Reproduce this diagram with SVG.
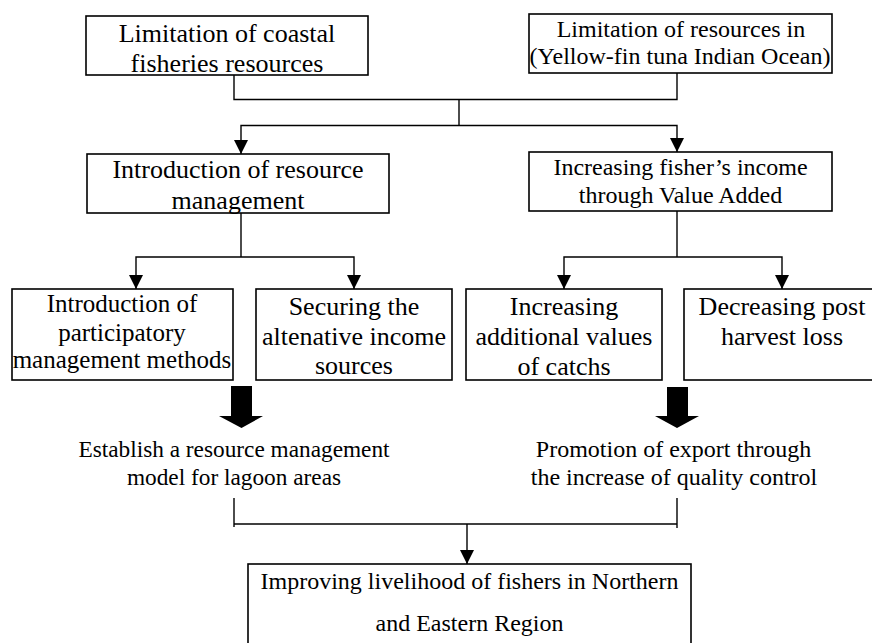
<svg xmlns="http://www.w3.org/2000/svg" width="872" height="643" viewBox="0 0 872 643">
  <style>
    .box { fill: #fff; stroke: #000; stroke-width: 1.6; }
    .t { font-family: "Liberation Serif", "Times New Roman", serif; fill: #000; text-anchor: middle; }
    .f26 { font-size: 26px; }
    .f25 { font-size: 25px; }
    .f24 { font-size: 24px; }
    .f23 { font-size: 23.3px; }
    .ln { fill: none; stroke: #000; stroke-width: 1.4; }
    .big { fill: #000; stroke: none; }
  </style>
  <defs>
    <marker id="arrow" viewBox="0 0 14 14" refX="14" refY="7" markerWidth="14" markerHeight="14" markerUnits="userSpaceOnUse" orient="auto">
      <path d="M0,0 L14,7 L0,14 z" fill="#000"/>
    </marker>
  </defs>

  <rect width="872" height="643" fill="#fff"/>

  <!-- connectors -->
  <g id="connectors">
    <!-- two sources merge, then split -->
    <path class="ln" d="M234,75 V99.5 H677 V73"/>
    <path class="ln" d="M459,99.5 V125.5"/>
    <path class="ln" d="M459,125.5 H241 V154" marker-end="url(#arrow)"/>
    <path class="ln" d="M459,125.5 H677 V152" marker-end="url(#arrow)"/>
    <!-- resource management branch -->
    <path class="ln" d="M241,213 V257"/>
    <path class="ln" d="M241,257 H136 V289" marker-end="url(#arrow)"/>
    <path class="ln" d="M241,257 H354 V289" marker-end="url(#arrow)"/>
    <!-- value added branch -->
    <path class="ln" d="M677,211 V257"/>
    <path class="ln" d="M677,257 H564 V289" marker-end="url(#arrow)"/>
    <path class="ln" d="M677,257 H782 V289" marker-end="url(#arrow)"/>
    <!-- bold block arrows -->
    <path class="big" d="M231,386 H252 V416 H263 L241.5,428 L219,416 H231 z"/>
    <path class="big" d="M667,387 H688 V416 H699 L677,428 L655,416 H667 z"/>
    <!-- outcomes merge into goal -->
    <path class="ln" d="M234,498 V527"/>
    <path class="ln" d="M677,498 V528"/>
    <path class="ln" d="M234,524 H677"/>
    <path class="ln" d="M467,524 V564" marker-end="url(#arrow)"/>
  </g>

  <g id="coastal-limits">
    <rect class="box" x="86" y="16" width="282" height="59"/>
    <text class="t f26" x="227" y="42">Limitation of coastal</text>
    <text class="t f26" x="227" y="72">fisheries resources</text>
  </g>

  <g id="tuna-limits">
    <rect class="box" x="529" y="14" width="303" height="59"/>
    <text class="t f24" x="681" y="37">Limitation of resources in</text>
    <text class="t f24" x="680" y="64">(Yellow-fin tuna Indian Ocean)</text>
  </g>

  <g id="resource-management">
    <rect class="box" x="87" y="154" width="302" height="59"/>
    <text class="t f26" x="238" y="178">Introduction of resource</text>
    <text class="t f26" x="238" y="209">management</text>
  </g>

  <g id="value-added">
    <rect class="box" x="529" y="152" width="303" height="59"/>
    <text class="t f24" x="680.5" y="175">Increasing fisher’s income</text>
    <text class="t f24" x="680.5" y="203">through Value Added</text>
  </g>

  <g id="participatory">
    <rect class="box" x="12" y="289" width="221" height="91"/>
    <text class="t f25" x="122" y="312">Introduction of</text>
    <text class="t f25" x="122" y="341">participatory</text>
    <text class="t f25" x="122" y="368">management methods</text>
  </g>

  <g id="alternative-income">
    <rect class="box" x="256" y="289" width="196" height="91"/>
    <text class="t f26" x="354" y="315">Securing the</text>
    <text class="t f26" x="354" y="345">altenative income</text>
    <text class="t f26" x="354" y="374">sources</text>
  </g>

  <g id="additional-values">
    <rect class="box" x="466" y="289" width="196" height="91"/>
    <text class="t f26" x="564" y="315">Increasing</text>
    <text class="t f26" x="564" y="345">additional values</text>
    <text class="t f26" x="564" y="375">of catchs</text>
  </g>

  <g id="post-harvest">
    <rect class="box" x="684" y="289" width="200" height="91"/>
    <text class="t f26" x="782" y="315">Decreasing post</text>
    <text class="t f26" x="782" y="345">harvest loss</text>
  </g>

  <g id="lagoon-model">
    <text class="t f23" x="234" y="457">Establish a resource management</text>
    <text class="t f23" x="234" y="485">model for lagoon areas</text>
  </g>

  <g id="export-promotion">
    <text class="t f24" x="673.5" y="457">Promotion of export through</text>
    <text class="t f24" x="674" y="485">the increase of quality control</text>
  </g>

  <g id="livelihood">
    <rect class="box" x="248" y="564" width="443" height="90"/>
    <text class="t f24" x="469.5" y="589">Improving livelihood of fishers in Northern</text>
    <text class="t f24" x="469.5" y="631">and Eastern Region</text>
  </g>
</svg>
